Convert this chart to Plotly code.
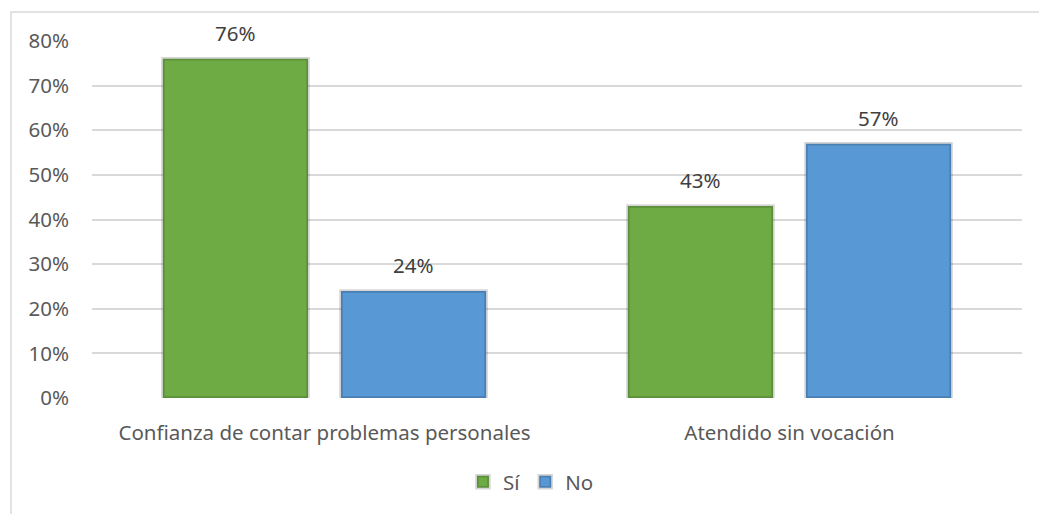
import plotly.graph_objects as go

# Survey results: share of "Sí" / "No" answers per question
categories = ["Confianza de contar problemas personales", "Atendido sin vocación"]
si_values = [0.76, 0.43]
no_values = [0.24, 0.57]
y_ticks = [0, 0.1, 0.2, 0.3, 0.4, 0.5, 0.6, 0.7, 0.8]
y_tick_labels = ["0%", "10%", "20%", "30%", "40%", "50%", "60%", "70%", "80%"]

FONT = "Noto Sans"
FONT_SIZE = 20.5
TEXT_GRAY = "#595959"
GREEN = "#6EAB45"
BLUE = "#5898D4"
SHADOW = "rgba(0,0,0,0.16)"
BARGAP = 0.234

fig = go.Figure()
fig.add_trace(go.Bar(
    name="Sí", x=categories, y=si_values,
    marker=dict(color=GREEN, line=dict(color=SHADOW, width=3.5)),
))
fig.add_trace(go.Bar(
    name="No", x=categories, y=no_values,
    marker=dict(color=BLUE, line=dict(color=SHADOW, width=3.5)),
))

# value labels above each bar (offset of each series inside its group)
slot = (1 - BARGAP) / 2
for offset, values in ((-slot / 2, si_values), (slot / 2, no_values)):
    for i, v in enumerate(values):
        fig.add_annotation(
            x=i + offset, y=v, text=f"{round(v * 100)}%",
            showarrow=False, yanchor="middle", yshift=26,
            font=dict(family=FONT, size=FONT_SIZE, color="#404040"),
        )

# outer chart border
fig.add_shape(
    type="rect", xref="paper", yref="paper",
    x0=-0.0871, x1=1.05, y0=-0.4, y1=1.081,
    line=dict(color="#d9d9d9", width=1.5), fillcolor="rgba(0,0,0,0)",
    layer="below",
)

fig.update_layout(
    width=1039, height=514,
    margin=dict(l=92, r=17, t=41, b=116),
    paper_bgcolor="white", plot_bgcolor="white",
    barmode="group", bargap=BARGAP, bargroupgap=0.185,
    font=dict(family=FONT, size=FONT_SIZE, color=TEXT_GRAY),
    showlegend=True,
    legend=dict(
        orientation="h", x=0.472, xanchor="center", y=-0.235, yanchor="middle",
        font=dict(family=FONT, size=FONT_SIZE, color=TEXT_GRAY),
        itemwidth=30, traceorder="normal",
    ),
    xaxis=dict(
        type="category", showgrid=False, showline=False, zeroline=False,
        ticks="", ticklabelstandoff=20,
        tickfont=dict(family=FONT, size=FONT_SIZE, color=TEXT_GRAY),
    ),
    yaxis=dict(
        range=[0, 0.8], tickvals=y_ticks, ticktext=y_tick_labels,
        showgrid=True, gridcolor="#d9d9d9", gridwidth=1.5,
        zeroline=False, showline=False, ticks="", ticklabelstandoff=22,
        tickfont=dict(family=FONT, size=FONT_SIZE, color=TEXT_GRAY),
    ),
)

fig.write_html("out.html")
